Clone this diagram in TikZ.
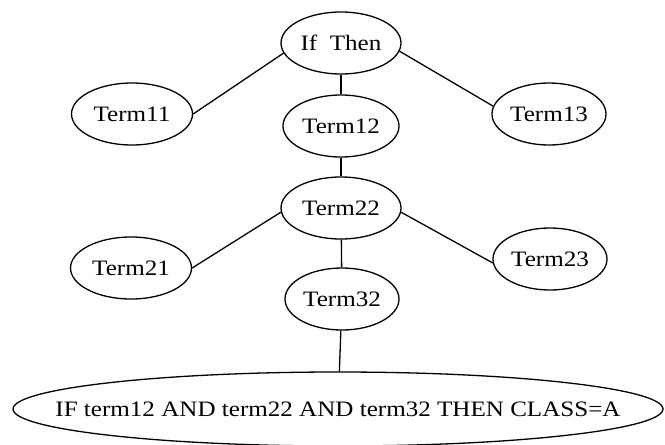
\documentclass[tikz,border=0pt]{standalone}
\usepackage{fontspec}
\setmainfont{Liberation Serif}
\usetikzlibrary{shapes.geometric}
\newcommand{\wtext}[1]{\scalebox{1.14}[1]{#1}}
\begin{document}
\begin{tikzpicture}[x=1pt,y=-1pt,
  term/.style={draw,ellipse,line width=1.3pt,inner sep=0pt,minimum width=120pt,minimum height=62pt,
    label={[font=\fontsize{22}{26}\selectfont,inner sep=0pt]center:\wtext{#1}}},
  conn/.style={line width=1.3pt}]
\useasboundingbox (0,0) rectangle (665,445);
\node[term={If\ \ Then}] (ifthen) at (341,43) {};
\node[term=Term11,minimum width=121pt] (t11) at (132,114) {};
\node[term=Term12,minimum width=116pt] (t12) at (341,126) {};
\node[term=Term13,minimum width=114pt] (t13) at (549,114) {};
\node[term=Term22] (t22) at (341,208) {};
\node[term=Term21,minimum width=121pt] (t21) at (131,268) {};
\node[term=Term23,minimum width=114pt] (t23) at (550,259) {};
\node[term=Term32,minimum width=114pt] (t32) at (342,299) {};
\node[term={IF term12 AND term22 AND term32 THEN CLASS=A},minimum width=650pt,minimum height=74pt] (res) at (338,409) {};
\draw[conn] (ifthen.190) -- (t11.east);
\draw[conn] (ifthen) -- (t12);
\draw[conn] (ifthen.352) -- (t13.172);
\draw[conn] (t12) -- (t22);
\draw[conn] (t22.184) -- (t21.east);
\draw[conn] (t22.356) -- (t23.184);
\draw[conn] (t22) -- (t32);
\draw[conn] (t32) -- (res);
\end{tikzpicture}
\end{document}
